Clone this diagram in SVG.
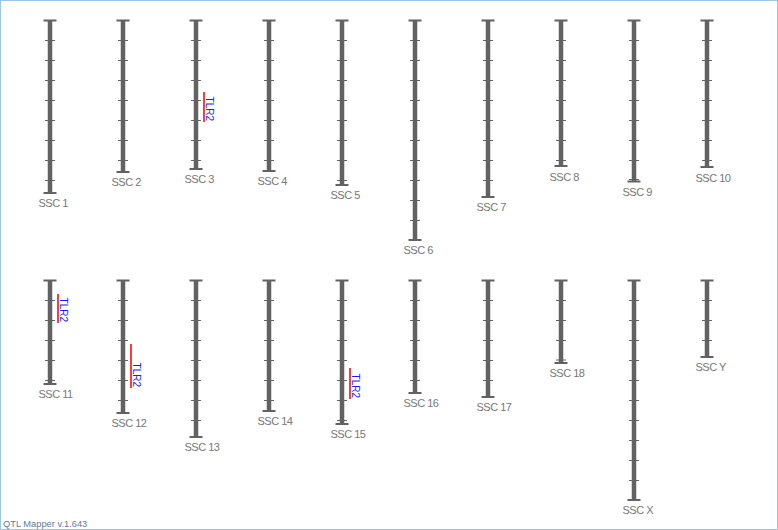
<svg xmlns="http://www.w3.org/2000/svg" width="778" height="530" viewBox="0 0 778 530">
<style>
.bar{stroke:#626262;stroke-width:4.5;fill:none}
.cap{stroke:#626262;stroke-width:2;fill:none}
.tick{stroke:#626262;stroke-width:1;fill:none}
.lbl{font-family:"Liberation Sans",Arial,sans-serif;font-size:11px;fill:#777;letter-spacing:-0.5px}
.qtl{stroke:#ff3b3b;stroke-width:2;fill:none}
.qlbl{font-family:"Liberation Sans",Arial,sans-serif;font-size:10px;fill:#1a1aff;text-anchor:end}
.foot{font-family:"Liberation Sans",Arial,sans-serif;font-size:9.3px;fill:#5f7a96}
</style>
<rect x="0.5" y="0.5" width="777" height="529" fill="#fff" stroke="#9cc6e8" stroke-width="1"/>
<g id="ssc1"><line class="bar" x1="50" y1="20" x2="50" y2="193"/><path class="cap" d="M43.5 20.5H56.5M43.5 193H56.5"/><path class="tick" d="M45 40.5h10M45 60.5h10M45 80.5h10M45 100.5h10M45 120.5h10M45 140.5h10M45 160.5h10M45 180.5h10"/><text class="lbl" x="38.5" y="207">SSC 1</text></g>
<g id="ssc2"><line class="bar" x1="123" y1="20" x2="123" y2="172"/><path class="cap" d="M116.5 20.5H129.5M116.5 172H129.5"/><path class="tick" d="M118 40.5h10M118 60.5h10M118 80.5h10M118 100.5h10M118 120.5h10M118 140.5h10M118 160.5h10"/><text class="lbl" x="111.5" y="186">SSC 2</text></g>
<g id="ssc3"><line class="bar" x1="196" y1="20" x2="196" y2="169"/><path class="cap" d="M189.5 20.5H202.5M189.5 169H202.5"/><path class="tick" d="M191 40.5h10M191 60.5h10M191 80.5h10M191 100.5h10M191 120.5h10M191 140.5h10M191 160.5h10"/><text class="lbl" x="184.5" y="183">SSC 3</text>
<line class="qtl" x1="204" y1="92" x2="204" y2="122"/><text class="qlbl" transform="translate(205.5,121) rotate(90)">TLR2</text></g>
<g id="ssc4"><line class="bar" x1="269" y1="20" x2="269" y2="171"/><path class="cap" d="M262.5 20.5H275.5M262.5 171H275.5"/><path class="tick" d="M264 40.5h10M264 60.5h10M264 80.5h10M264 100.5h10M264 120.5h10M264 140.5h10M264 160.5h10"/><text class="lbl" x="257.5" y="185">SSC 4</text></g>
<g id="ssc5"><line class="bar" x1="342" y1="20" x2="342" y2="185"/><path class="cap" d="M335.5 20.5H348.5M335.5 185H348.5"/><path class="tick" d="M337 40.5h10M337 60.5h10M337 80.5h10M337 100.5h10M337 120.5h10M337 140.5h10M337 160.5h10M337 180.5h10"/><text class="lbl" x="330.5" y="199">SSC 5</text></g>
<g id="ssc6"><line class="bar" x1="415" y1="20" x2="415" y2="240"/><path class="cap" d="M408.5 20.5H421.5M408.5 240H421.5"/><path class="tick" d="M410 40.5h10M410 60.5h10M410 80.5h10M410 100.5h10M410 120.5h10M410 140.5h10M410 160.5h10M410 180.5h10M410 200.5h10M410 220.5h10"/><text class="lbl" x="403.5" y="254">SSC 6</text></g>
<g id="ssc7"><line class="bar" x1="488" y1="20" x2="488" y2="197"/><path class="cap" d="M481.5 20.5H494.5M481.5 197H494.5"/><path class="tick" d="M483 40.5h10M483 60.5h10M483 80.5h10M483 100.5h10M483 120.5h10M483 140.5h10M483 160.5h10M483 180.5h10"/><text class="lbl" x="476.5" y="211">SSC 7</text></g>
<g id="ssc8"><line class="bar" x1="561" y1="20" x2="561" y2="166"/><path class="cap" d="M554.5 20.5H567.5M554.5 166H567.5"/><path class="tick" d="M556 40.5h10M556 60.5h10M556 80.5h10M556 100.5h10M556 120.5h10M556 140.5h10M556 160.5h10"/><text class="lbl" x="549.5" y="181">SSC 8</text></g>
<g id="ssc9"><line class="bar" x1="634" y1="20" x2="634" y2="181"/><path class="cap" d="M627.5 20.5H640.5M627.5 181.5H640.5"/><path class="tick" d="M629 40.5h10M629 60.5h10M629 80.5h10M629 100.5h10M629 120.5h10M629 140.5h10M629 160.5h10M629 179.5h10"/><text class="lbl" x="622.5" y="196">SSC 9</text></g>
<g id="ssc10"><line class="bar" x1="707" y1="20" x2="707" y2="167"/><path class="cap" d="M700.5 20.5H713.5M700.5 167H713.5"/><path class="tick" d="M702 40.5h10M702 60.5h10M702 80.5h10M702 100.5h10M702 120.5h10M702 140.5h10M702 160.5h10"/><text class="lbl" x="695.5" y="182">SSC 10</text></g>
<g id="ssc11"><line class="bar" x1="50" y1="280" x2="50" y2="384"/><path class="cap" d="M43.5 280.5H56.5M43.5 384H56.5"/><path class="tick" d="M45 300.5h10M45 320.5h10M45 340.5h10M45 360.5h10M45 380.5h10"/><text class="lbl" x="38.5" y="398">SSC 11</text>
<line class="qtl" x1="58" y1="294" x2="58" y2="323"/><text class="qlbl" transform="translate(59.5,322) rotate(90)">TLR2</text></g>
<g id="ssc12"><line class="bar" x1="123" y1="280" x2="123" y2="413"/><path class="cap" d="M116.5 280.5H129.5M116.5 413H129.5"/><path class="tick" d="M118 300.5h10M118 320.5h10M118 340.5h10M118 360.5h10M118 380.5h10M118 400.5h10"/><text class="lbl" x="111.5" y="427">SSC 12</text>
<line class="qtl" x1="131" y1="344" x2="131" y2="388"/><text class="qlbl" transform="translate(132.5,387) rotate(90)">TLR2</text></g>
<g id="ssc13"><line class="bar" x1="196" y1="280" x2="196" y2="437"/><path class="cap" d="M189.5 280.5H202.5M189.5 437H202.5"/><path class="tick" d="M191 300.5h10M191 320.5h10M191 340.5h10M191 360.5h10M191 380.5h10M191 400.5h10M191 420.5h10"/><text class="lbl" x="184.5" y="451">SSC 13</text></g>
<g id="ssc14"><line class="bar" x1="269" y1="280" x2="269" y2="411"/><path class="cap" d="M262.5 280.5H275.5M262.5 411H275.5"/><path class="tick" d="M264 300.5h10M264 320.5h10M264 340.5h10M264 360.5h10M264 380.5h10M264 400.5h10"/><text class="lbl" x="257.5" y="425">SSC 14</text></g>
<g id="ssc15"><line class="bar" x1="342" y1="280" x2="342" y2="424"/><path class="cap" d="M335.5 280.5H348.5M335.5 424H348.5"/><path class="tick" d="M337 300.5h10M337 320.5h10M337 340.5h10M337 360.5h10M337 380.5h10M337 400.5h10M337 420.5h10"/><text class="lbl" x="330.5" y="438">SSC 15</text>
<line class="qtl" x1="350" y1="368" x2="350" y2="399"/><text class="qlbl" transform="translate(351.5,398) rotate(90)">TLR2</text></g>
<g id="ssc16"><line class="bar" x1="415" y1="280" x2="415" y2="393"/><path class="cap" d="M408.5 280.5H421.5M408.5 393H421.5"/><path class="tick" d="M410 300.5h10M410 320.5h10M410 340.5h10M410 360.5h10M410 380.5h10"/><text class="lbl" x="403.5" y="407">SSC 16</text></g>
<g id="ssc17"><line class="bar" x1="488" y1="280" x2="488" y2="397"/><path class="cap" d="M481.5 280.5H494.5M481.5 397H494.5"/><path class="tick" d="M483 300.5h10M483 320.5h10M483 340.5h10M483 360.5h10M483 380.5h10"/><text class="lbl" x="476.5" y="411">SSC 17</text></g>
<g id="ssc18"><line class="bar" x1="561" y1="280" x2="561" y2="363"/><path class="cap" d="M554.5 280.5H567.5M554.5 363H567.5"/><path class="tick" d="M556 300.5h10M556 320.5h10M556 340.5h10M556 360h10"/><text class="lbl" x="549.5" y="377">SSC 18</text></g>
<g id="sscX"><line class="bar" x1="634" y1="280" x2="634" y2="500"/><path class="cap" d="M627.5 280.5H640.5M627.5 500H640.5"/><path class="tick" d="M629 300.5h10M629 320.5h10M629 340.5h10M629 360.5h10M629 380.5h10M629 400.5h10M629 420.5h10M629 440.5h10M629 460.5h10M629 480.5h10"/><text class="lbl" x="622.5" y="514">SSC X</text></g>
<g id="sscY"><line class="bar" x1="707" y1="280" x2="707" y2="357"/><path class="cap" d="M700.5 280.5H713.5M700.5 357H713.5"/><path class="tick" d="M702 300.5h10M702 320.5h10M702 340.5h10"/><text class="lbl" x="695.5" y="371">SSC Y</text></g>
<g id="connectors"/>
<text class="foot" x="3" y="527">QTL Mapper v.1.643</text>
</svg>
